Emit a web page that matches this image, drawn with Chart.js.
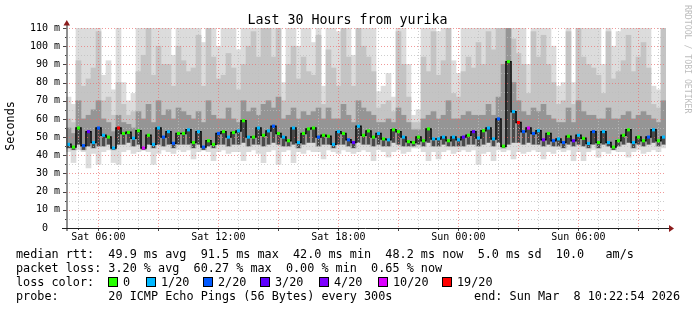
<!DOCTYPE html>
<html>
<head>
<meta charset="utf-8">
<title>Last 30 Hours from yurika</title>
<script src="https://cdn.jsdelivr.net/npm/chart.js@4.4.1/dist/chart.umd.min.js"></script>
<style>
  html, body { margin: 0; padding: 0; background: #fff; }
  canvas { display: block; }
</style>
</head>
<body>
<canvas id="smoke" width="697" height="310"></canvas>
<script>
// 30 hour window, one column per 15 min, window starts Sat 04:22:54
const startHour = 4 + 22 / 60 + 54 / 3600;
const stepHours = 0.25;

const medianRtt = [
  46, 44.5, 55, 45.3, 53, 47, 55, 51, 50, 44, 55, 52, 52.6, 49.4, 53.5, 44, 51, 46, 55, 50,
  53, 46.6, 52, 52, 54, 47, 53, 44.5, 48, 46, 52, 53, 50, 52.5, 53.4, 59, 50, 50, 55, 51,
  53.4, 56, 52, 50, 48, 55, 47, 52, 54.5, 55, 50, 51, 50.5, 46, 53, 52, 48.5, 47, 56, 51,
  53.4, 50, 52, 49, 48.5, 54, 53, 50, 47.5, 47, 50, 48, 54.5, 49, 49, 50, 48, 50, 48.5, 50,
  51, 53, 49.5, 53.5, 55, 49, 60, 45, 91.5, 64, 58, 53, 55, 52, 53.5, 48.5, 52, 48, 49, 47,
  50.5, 48, 51, 49.3, 46.5, 53, 47, 53, 47, 44.5, 48, 51, 54, 47, 50, 48, 50, 54, 48, 50
];
// index into lossColors: 0, 1/20, 2/20, 3/20, 4/20, 10/20, 19/20
const lossIdx = [
  1, 0, 0, 2, 3, 1, 2, 1, 0, 1, 6, 0, 0, 1, 0, 5, 0, 1, 1, 2,
  1, 2, 0, 0, 1, 0, 1, 2, 0, 0, 2, 0, 1, 0, 1, 0, 1, 0, 1, 0,
  1, 2, 0, 1, 0, 1, 1, 0, 0, 0, 2, 0, 0, 1, 1, 0, 2, 3, 1, 0,
  0, 0, 1, 0, 1, 0, 0, 1, 0, 0, 0, 0, 0, 1, 1, 1, 0, 1, 1, 3,
  0, 3, 1, 0, 1, 1, 2, 0, 0, 1, 6, 2, 5, 2, 1, 4, 0, 2, 1, 2,
  0, 3, 1, 0, 1, 2, 0, 1, 1, 0, 0, 0, 0, 1, 0, 0, 2, 1, 0, 1
];
const pingMin = [
  42, 36, 43, 42, 33, 41, 35, 42, 43, 36, 35, 42, 43, 41, 42, 43, 42, 35, 41, 43,
  42, 41, 43, 42, 43, 38, 42, 43, 42, 37, 42, 43, 41, 42, 42, 37, 42, 43, 41, 36,
  42, 43, 35, 42, 43, 36, 42, 41, 43, 42, 42, 38, 43, 42, 41, 43, 42, 41, 42, 43,
  42, 37, 43, 42, 39, 42, 43, 41, 42, 44, 44, 42, 37, 42, 38, 42, 43, 41, 42, 43,
  42, 43, 35, 41, 42, 37, 43, 42, 43, 38, 42, 41, 42, 43, 42, 38, 42, 41, 43, 42,
  43, 37, 42, 37, 42, 43, 39, 42, 41, 43, 42, 42, 39, 42, 43, 41, 42, 43, 42, 44
];
const pingLow = [
  44, 43, 46, 43, 45, 44, 45, 45, 46, 43, 46, 46, 47, 45, 46, 43, 46, 44, 46, 45,
  46, 44, 46, 46, 46, 44, 46, 43, 45, 44, 46, 46, 45, 46, 46, 47, 45, 46, 46, 45,
  46, 47, 46, 45, 45, 46, 44, 46, 47, 47, 45, 46, 46, 44, 46, 46, 45, 44, 47, 46,
  46, 45, 46, 45, 45, 47, 46, 45, 45, 45, 46, 45, 47, 45, 45, 46, 45, 45, 45, 45,
  46, 46, 45, 46, 47, 45, 47, 44, 46, 47, 47, 46, 47, 46, 46, 45, 46, 45, 45, 44,
  46, 45, 46, 45, 44, 46, 44, 46, 45, 43, 45, 46, 47, 44, 46, 45, 46, 47, 45, 46
];
const pingP75 = [
  55, 52, 70, 60, 62, 65, 70, 60, 58, 53, 62, 58, 57, 55, 64, 60, 68, 58, 70, 62,
  65, 60, 66, 64, 62, 60, 64, 58, 70, 62, 60, 60, 66, 60, 58, 70, 64, 66, 62, 68,
  70, 66, 72, 60, 62, 66, 60, 64, 62, 64, 66, 60, 66, 60, 60, 68, 62, 58, 70, 66,
  64, 62, 58, 58, 60, 58, 66, 62, 58, 54, 54, 60, 62, 64, 60, 62, 70, 60, 60, 62,
  64, 62, 62, 62, 68, 62, 72, 90, 115, 80, 70, 64, 62, 66, 64, 68, 62, 60, 58, 58,
  66, 58, 70, 64, 62, 62, 60, 60, 66, 60, 60, 62, 64, 60, 62, 64, 62, 60, 58, 70
];
const pingP90 = [
  60, 58, 92, 78, 82, 88, 108, 70, 72, 62, 80, 68, 62, 64, 86, 95, 112, 84, 100, 90,
  90, 78, 100, 92, 86, 88, 106, 78, 112, 94, 82, 84, 96, 88, 76, 90, 100, 108, 94, 110,
  112, 94, 110, 70, 90, 100, 82, 94, 86, 84, 106, 68, 98, 88, 78, 110, 94, 78, 112, 100,
  94, 86, 66, 68, 70, 64, 108, 90, 72, 58, 58, 94, 86, 108, 84, 92, 112, 74, 72, 86,
  94, 88, 102, 90, 108, 98, 110, 115, 115, 104, 96, 90, 74, 108, 94, 106, 90, 80, 68, 70,
  108, 68, 110, 94, 90, 88, 84, 74, 108, 82, 86, 92, 106, 86, 94, 102, 88, 68, 66, 112
];
const pingMax = [
  72, 68, 115, 115, 115, 115, 115, 84, 92, 76, 115, 80, 70, 74, 115, 115, 115, 115, 115, 115,
  115, 95, 115, 115, 115, 115, 115, 102, 115, 115, 100, 115, 115, 115, 98, 115, 115, 115, 115, 115,
  115, 115, 115, 80, 115, 115, 100, 115, 115, 102, 115, 78, 115, 115, 108, 115, 115, 95, 115, 115,
  115, 115, 75, 78, 85, 72, 115, 115, 90, 62, 65, 115, 115, 115, 108, 115, 115, 92, 85, 115,
  115, 115, 115, 115, 115, 115, 115, 115, 115, 115, 115, 115, 90, 115, 115, 115, 115, 100, 78, 80,
  115, 80, 115, 115, 115, 115, 115, 90, 115, 100, 108, 115, 115, 115, 115, 115, 115, 78, 76, 115
];

const lossColors = ['#26ff00', '#00b8ff', '#0059ff', '#5e00ff', '#7e00ff', '#dd00ff', '#ff0000'];
const lossLabels = ['0', '1/20', '2/20', '3/20', '4/20', '10/20', '19/20'];
const xTickHours = [6, 12, 18, 24, 30];
const xTickLabels = ['Sat 06:00', 'Sat 12:00', 'Sat 18:00', 'Sun 00:00', 'Sun 06:00'];

const titleText = 'Last 30 Hours from yurika';
const legendLines = [
  'median rtt:  49.9 ms avg  91.5 ms max  42.0 ms min  48.2 ms now  5.0 ms sd  10.0   am/s',
  'packet loss: 3.20 % avg  60.27 % max  0.00 % min  0.65 % now',
  'loss color:',
  'probe:       20 ICMP Echo Pings (56 Bytes) every 300s'
];
const endText = 'end: Sun Mar  8 10:22:54 2026';

const MONO = '"DejaVu Sans Mono", monospace';

const xs = medianRtt.map((_, i) => startHour + (i + 0.5) * stepHours);
const band = (lo, hi) => xs.map((x, i) => ({ x: x, y: [lo[i], hi[i]] }));

// grid goes on top of the smoke, under the median line
function drawGrid(chart) {
  const ctx = chart.ctx;
  const a = chart.chartArea;
  const x = chart.scales.x, y = chart.scales.y;
  ctx.save();
  ctx.lineWidth = 1;
  ctx.setLineDash([1, 2]);
  const major = 'rgba(235,110,110,0.7)';
  const minor = 'rgba(190,190,190,0.75)';
  for (let v = 5; v <= y.max; v += 5) {
    const py = Math.round(y.getPixelForValue(v)) + 0.5;
    ctx.strokeStyle = v % 10 === 0 ? major : minor;
    ctx.beginPath();
    ctx.moveTo(a.left, py);
    ctx.lineTo(a.right, py);
    ctx.stroke();
  }
  for (let h = Math.ceil(x.min); h <= x.max; h++) {
    const px = Math.floor(x.getPixelForValue(h)) + 0.5;
    ctx.strokeStyle = h % 3 === 0 ? major : minor;
    ctx.beginPath();
    ctx.moveTo(px, a.top);
    ctx.lineTo(px, a.bottom);
    ctx.stroke();
  }
  ctx.restore();
}

const rrdDecor = {
  id: 'rrdDecor',
  beforeDatasetDraw(chart, args) {
    if (args.index === 0) drawGrid(chart);
  },
  afterDraw(chart) {
    const ctx = chart.ctx;
    const a = chart.chartArea;
    const x = chart.scales.x, y = chart.scales.y;
    ctx.save();

    // axes
    ctx.strokeStyle = '#202020';
    ctx.lineWidth = 1;
    ctx.beginPath();
    ctx.moveTo(a.left - 4, a.bottom + 0.5);
    ctx.lineTo(a.right + 3, a.bottom + 0.5);
    ctx.stroke();
    ctx.beginPath();
    ctx.moveTo(a.left + 1, a.bottom + 3);
    ctx.lineTo(a.left + 1, a.top - 3);
    ctx.stroke();

    // tick marks
    ctx.strokeStyle = '#444';
    for (let v = 5; v <= y.max; v += 5) {
      const py = Math.round(y.getPixelForValue(v)) + 0.5;
      ctx.beginPath();
      ctx.moveTo(a.left - (v % 10 === 0 ? 3 : 1), py);
      ctx.lineTo(a.left, py);
      ctx.stroke();
    }
    for (let h = Math.ceil(x.min); h <= x.max; h++) {
      const px = Math.floor(x.getPixelForValue(h)) + 0.5;
      ctx.beginPath();
      ctx.moveTo(px, a.bottom + 1);
      ctx.lineTo(px, a.bottom + (h % 3 === 0 ? 3 : 2));
      ctx.stroke();
    }

    // arrows
    ctx.fillStyle = '#8c1c1c';
    ctx.beginPath();
    ctx.moveTo(a.left - 2.5, a.top - 2.5);
    ctx.lineTo(a.left + 4, a.top - 2.5);
    ctx.lineTo(a.left + 0.8, a.top - 8);
    ctx.closePath();
    ctx.fill();
    ctx.beginPath();
    ctx.moveTo(a.right + 3, a.bottom - 3);
    ctx.lineTo(a.right + 3, a.bottom + 4);
    ctx.lineTo(a.right + 8, a.bottom + 0.5);
    ctx.closePath();
    ctx.fill();

    // title
    ctx.fillStyle = '#000';
    ctx.textAlign = 'center';
    ctx.textBaseline = 'alphabetic';
    ctx.font = '13.3px ' + MONO;
    ctx.fillText(titleText, 347.5, 24);

    // vertical label
    ctx.save();
    ctx.translate(11, 126);
    ctx.rotate(-Math.PI / 2);
    ctx.textBaseline = 'middle';
    ctx.font = '11.8px ' + MONO;
    ctx.fillText('Seconds', 0, 0);
    ctx.restore();

    // watermark
    ctx.save();
    ctx.translate(687.5, 5);
    ctx.rotate(Math.PI / 2);
    ctx.textAlign = 'left';
    ctx.textBaseline = 'middle';
    ctx.font = '8.2px ' + MONO;
    ctx.fillStyle = '#bdbdbd';
    ctx.fillText('RRDTOOL / TOBI OETIKER', 0, 0);
    ctx.restore();

    // legend
    ctx.font = '11.8px ' + MONO;
    ctx.textAlign = 'left';
    ctx.textBaseline = 'alphabetic';
    const rows = [258, 272, 286, 300];
    legendLines.forEach((t, i) => ctx.fillText(t, 16, rows[i]));
    ctx.textAlign = 'right';
    ctx.fillText(endText, 680, rows[3]);
    ctx.textAlign = 'left';

    const boxX = [108, 146, 203, 260, 319, 378, 442];
    lossLabels.forEach((lab, i) => {
      ctx.fillStyle = lossColors[i];
      ctx.fillRect(boxX[i], 277, 10, 10);
      ctx.strokeStyle = '#000';
      ctx.strokeRect(boxX[i] + 0.5, 277.5, 9, 9);
      ctx.fillStyle = '#000';
      ctx.fillText(lab, boxX[i] + 15, rows[2]);
    });

    ctx.restore();
  }
};

new Chart(document.getElementById('smoke'), {
  type: 'bar',
  data: {
    datasets: [
      {
        type: 'line',
        label: 'median rtt',
        data: xs.map((x, i) => ({ x: x, y: medianRtt[i] })),
        order: 0,
        borderColor: '#000',
        borderWidth: 1.5,
        stepped: 'middle',
        pointStyle: 'rect',
        pointRadius: 2.2,
        pointBorderWidth: 0,
        pointBackgroundColor: lossIdx.map(k => lossColors[k])
      },
      { label: 'below median', data: band(pingLow, medianRtt), backgroundColor: '#4a4a4a', barPercentage: 0.6, order: 1 },
      { label: 'inner pings', data: band(pingLow, pingP75), backgroundColor: '#959595', order: 2 },
      { label: 'mid pings', data: band(pingLow, pingP90), backgroundColor: '#c4c4c4', order: 3 },
      { label: 'all pings', data: band(pingMin, pingMax), backgroundColor: '#dcdcdc', order: 4 }
    ]
  },
  options: {
    responsive: false,
    devicePixelRatio: 1,
    animation: false,
    events: [],
    layout: { padding: { left: 0, right: 31, top: 28, bottom: 0 } },
    datasets: {
      bar: { grouped: false, barPercentage: 1, categoryPercentage: 1, borderWidth: 0 }
    },
    plugins: {
      legend: { display: false },
      tooltip: { enabled: false }
    },
    scales: {
      x: {
        type: 'linear',
        min: startHour,
        max: startHour + 30,
        offset: false,
        grid: { display: false, drawTicks: false, offset: false },
        border: { display: false },
        afterBuildTicks: (scale) => { scale.ticks = xTickHours.map(v => ({ value: v })); },
        afterFit: (scale) => { scale.height = 82; },
        ticks: {
          autoSkip: false,
          maxRotation: 0,
          padding: 3,
          color: '#000',
          font: { family: 'DejaVu Sans Mono', size: 10 },
          callback: (v, i) => xTickLabels[i]
        }
      },
      y: {
        type: 'linear',
        min: 0,
        max: 110,
        grid: { display: false, drawTicks: false },
        border: { display: false },
        afterFit: (scale) => { scale.width = 66; },
        ticks: {
          stepSize: 10,
          padding: 6,
          color: '#000',
          font: { family: 'DejaVu Sans Mono', size: 10 },
          callback: (v) => (v === 0 ? '0  ' : v + ' m')
        }
      }
    }
  },
  plugins: [rrdDecor]
});
</script>
</body>
</html>
